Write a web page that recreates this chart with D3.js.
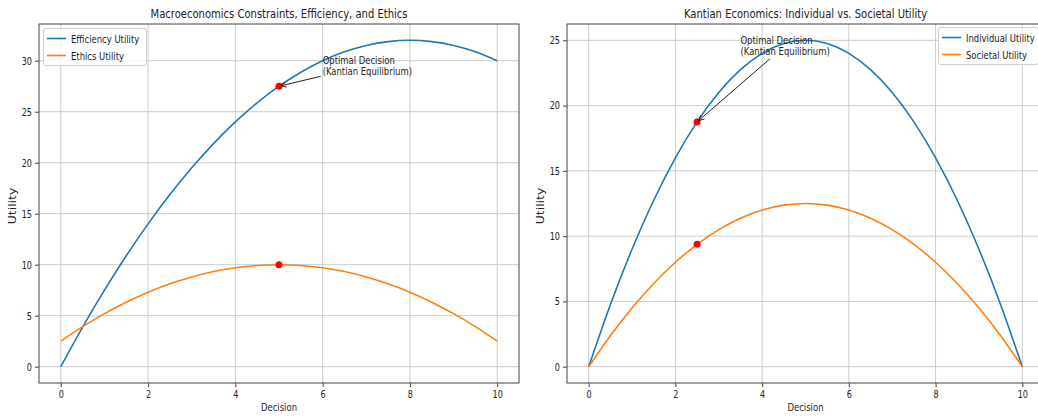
<!DOCTYPE html>
<html>
<head>
<meta charset="utf-8">
<script src="https://cdn.jsdelivr.net/npm/d3@7"></script>
<style>
  body { margin: 0; background: #fff; }
  svg { display: block; font-family: "DejaVu Sans", sans-serif; }
</style>
</head>
<body>
<div id="chart-area"></div>
<script>
// Data
const decisions = [0, 0.5, 1, 1.5, 2, 2.5, 3, 3.5, 4, 4.5, 5, 5.5, 6, 6.5, 7, 7.5, 8, 8.5, 9, 9.5, 10];
const efficiencyUtility = [0, 3.875, 7.5, 10.875, 14, 16.875, 19.5, 21.875, 24, 25.875, 27.5, 28.875, 30, 30.875, 31.5, 31.875, 32, 31.875, 31.5, 30.875, 30];
const ethicsUtility = [2.5, 3.925, 5.2, 6.325, 7.3, 8.125, 8.8, 9.325, 9.7, 9.925, 10, 9.925, 9.7, 9.325, 8.8, 8.125, 7.3, 6.325, 5.2, 3.925, 2.5];
const individualUtility = [0, 4.75, 9, 12.75, 16, 18.75, 21, 22.75, 24, 24.75, 25, 24.75, 24, 22.75, 21, 18.75, 16, 12.75, 9, 4.75, 0];
const societalUtility = [0, 2.375, 4.5, 6.375, 8, 9.375, 10.5, 11.375, 12, 12.375, 12.5, 12.375, 12, 11.375, 10.5, 9.375, 8, 6.375, 4.5, 2.375, 0];
const leftOptimal = [[5, 27.5], [5, 10]];
const rightOptimal = [[2.5, 18.75], [2.5, 9.375]];
const xTicks = [0, 2, 4, 6, 8, 10];
const leftYTicks = [0, 5, 10, 15, 20, 25, 30];
const rightYTicks = [0, 5, 10, 15, 20, 25];
const annotationLines = ["Optimal Decision", "(Kantian Equilibrium)"];

const W = 1038, H = 418;
const SX = 0.77; // text in the picture is horizontally narrow
const blue = "#1f77b4", orange = "#ff7f0e";

const svg = d3.select("#chart-area").append("svg")
  .attr("width", W).attr("height", H);

// squeezed text placed at (x, y)
function label(parent, x, y, str, size, anchor, rotate) {
  const g = parent.append("g")
    .attr("transform", `translate(${x},${y})` + (rotate ? ` rotate(${rotate})` : ""));
  const t = g.append("text")
    .attr("transform", rotate ? `scale(1,${SX})` : `scale(${SX},1)`)
    .attr("font-size", size)
    .attr("fill", "#222")
    .attr("text-anchor", anchor || "start")
    .text(str);
  return t;
}

function panel(opts) {
  const x = d3.scaleLinear().domain([-0.5, 10.5]).range(opts.xRange);
  const y = d3.scaleLinear().domain(opts.yDomain).range([383, 24]);
  const g = svg.append("g");
  const [x0, x1] = opts.xRange;

  // grid
  g.append("g").selectAll("line").data(xTicks).join("line")
    .attr("x1", d => x(d)).attr("x2", d => x(d))
    .attr("y1", 24).attr("y2", 383)
    .attr("stroke", "#cccccc").attr("stroke-width", 1);
  g.append("g").selectAll("line").data(opts.yTicks).join("line")
    .attr("x1", x0).attr("x2", x1)
    .attr("y1", d => y(d)).attr("y2", d => y(d))
    .attr("stroke", "#cccccc").attr("stroke-width", 1);

  // axes
  const xAxis = g.append("g").attr("transform", "translate(0,383)")
    .call(d3.axisBottom(x).tickValues(xTicks).tickSize(4).tickPadding(4));
  const yAxis = g.append("g").attr("transform", `translate(${x0},0)`)
    .call(d3.axisLeft(y).tickValues(opts.yTicks).tickSize(4).tickPadding(3));
  [xAxis, yAxis].forEach(a => {
    a.select(".domain").remove();
    a.selectAll(".tick line").attr("stroke", "#444");
    a.selectAll(".tick text").attr("font-size", 10.5).attr("fill", "#222")
      .attr("font-family", "DejaVu Sans");
  });
  xAxis.selectAll(".tick text").attr("transform", `scale(${SX},1)`);
  yAxis.selectAll(".tick text").attr("x", -7 / SX).attr("transform", `scale(${SX},1)`);

  // lines
  const line = d3.line().x((d, i) => x(decisions[i])).y(d => y(d)).curve(d3.curveNatural);
  g.append("path").datum(opts.series[0]).attr("d", line)
    .attr("fill", "none").attr("stroke", blue).attr("stroke-width", 1.6);
  g.append("path").datum(opts.series[1]).attr("d", line)
    .attr("fill", "none").attr("stroke", orange).attr("stroke-width", 1.6);

  // optimal points
  g.selectAll("circle.opt").data(opts.optimal).join("circle")
    .attr("cx", d => x(d[0])).attr("cy", d => y(d[1])).attr("r", 3.5)
    .attr("fill", "red");

  // frame
  g.append("rect").attr("x", x0).attr("y", 24).attr("width", x1 - x0).attr("height", 359)
    .attr("fill", "none").attr("stroke", "#444").attr("stroke-width", 1);

  // titles / labels
  label(g, (x0 + x1) / 2, 18, opts.title, 13, "middle");
  label(g, (x0 + x1) / 2, 411, "Decision", 11, "middle");
  label(g, x0 - 23, 206, "Utility", 12.5, "middle", -90);

  // annotation
  const ax = x(opts.annText[0]), ay = y(opts.annText[1]);
  const ag = g.append("g").attr("transform", `translate(${ax},${ay})`);
  const at = ag.append("text").attr("transform", `scale(${SX},1)`)
    .attr("font-size", 11).attr("fill", "#222");
  annotationLines.forEach((s, i) => {
    at.append("tspan").attr("x", 0).attr("y", (i - annotationLines.length + 1) * 11.5).text(s);
  });
  const bb = at.node().getBBox();
  const bx0 = ax + bb.x * SX, bx1 = bx0 + bb.width * SX, by0 = ay + bb.y, by1 = by0 + bb.height;
  const cx = (bx0 + bx1) / 2, cy = (by0 + by1) / 2;
  const px = x(opts.optimal[0][0]), py = y(opts.optimal[0][1]);
  const dx = px - cx, dy = py - cy;
  const tx = ((dx > 0 ? bx1 : bx0) - cx) / dx, ty = ((dy > 0 ? by1 : by0) - cy) / dy;
  const t = Math.min(Math.abs(tx), Math.abs(ty));
  const len = Math.hypot(dx, dy), ux = dx / len, uy = dy / len;
  const sx = cx + dx * t + ux * 2, sy = cy + dy * t + uy * 2;
  const ex = px - ux * 2, ey = py - uy * 2;
  const hl = 6, ha = 0.45;
  const h1 = [ex - hl * (ux * Math.cos(ha) - uy * Math.sin(ha)), ey - hl * (uy * Math.cos(ha) + ux * Math.sin(ha))];
  const h2 = [ex - hl * (ux * Math.cos(ha) + uy * Math.sin(ha)), ey - hl * (uy * Math.cos(ha) - ux * Math.sin(ha))];
  g.append("path")
    .attr("d", `M${sx},${sy}L${ex},${ey}M${h1[0]},${h1[1]}L${ex},${ey}L${h2[0]},${h2[1]}`)
    .attr("fill", "none").attr("stroke", "#222").attr("stroke-width", 1);

  // legend
  const lg = g.append("g").attr("transform", `translate(${opts.legend[0]},${opts.legend[1]})`);
  lg.append("rect").attr("x", 0).attr("y", 0).attr("width", opts.legend[2]).attr("height", 37)
    .attr("rx", 2.5).attr("fill", "white").attr("fill-opacity", 0.8)
    .attr("stroke", "#d0d0d0").attr("stroke-width", 1);
  opts.names.forEach((n, i) => {
    lg.append("line").attr("x1", 3.5).attr("x2", 22.5)
      .attr("y1", 10 + i * 17).attr("y2", 10 + i * 17)
      .attr("stroke", i ? orange : blue).attr("stroke-width", 1.6);
    label(lg, 27.5, 14 + i * 17, n, 11);
  });
}

panel({
  xRange: [39, 519],
  yDomain: [-1.6, 33.6],
  yTicks: leftYTicks,
  series: [efficiencyUtility, ethicsUtility],
  optimal: leftOptimal,
  title: "Macroeconomics Constraints, Efficiency, and Ethics",
  names: ["Efficiency Utility", "Ethics Utility"],
  annText: [6, 28.6],
  legend: [43.5, 28.5, 103]
});

panel({
  xRange: [567, 1044],
  yDomain: [-1.25, 26.25],
  yTicks: rightYTicks,
  series: [individualUtility, societalUtility],
  optimal: rightOptimal,
  title: "Kantian Economics: Individual vs. Societal Utility",
  names: ["Individual Utility", "Societal Utility"],
  annText: [3.5, 23.85],
  legend: [938.5, 27.5, 100]
});
</script>
</body>
</html>
